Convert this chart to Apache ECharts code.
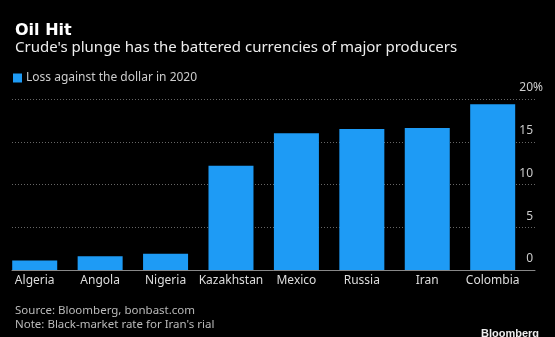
<!DOCTYPE html>
<html>
<head>
<meta charset="utf-8">
<script src="https://cdn.jsdelivr.net/npm/echarts@6/dist/echarts.min.js"></script>
<style>
  html, body { margin: 0; padding: 0; background: #000; }
  #chart { width: 555px; height: 337px; }
</style>
</head>
<body>
<div id="chart"></div>
<script>
const categories = ['Algeria', 'Angola', 'Nigeria', 'Kazakhstan', 'Mexico', 'Russia', 'Iran', 'Colombia'];
const lossValues = [1.1, 1.6, 1.9, 12.2, 16.0, 16.5, 16.6, 19.4];
const yTicks = [0, 5, 10, 15, 20];
const seriesName = 'Loss against the dollar in 2020';

const chart = echarts.init(document.getElementById('chart'), null, { renderer: 'canvas' });
const sans = 'Noto Sans';
const option = {
  backgroundColor: '#000',
  animation: false,
  title: [
    { text: 'Oil Hit', left: 10, top: 18,
      textStyle: { fontFamily: 'DejaVu Sans', fontWeight: 'bold', fontSize: 16, color: '#fff' } },
    { text: "Crude's plunge has the battered currencies of major producers", left: 10, top: 35,
      textStyle: { fontFamily: sans, fontWeight: 'normal', fontSize: 15, color: '#eee' } },
    { text: 'Source: Bloomberg, bonbast.com\nNote: Black-market rate for Iran\'s rial', left: 10, top: 299,
      textStyle: { fontFamily: sans, fontWeight: 'normal', fontSize: 11.5, lineHeight: 13.5, color: '#bbb' } },
    { text: 'Bloomberg', right: 11, top: 323,
      textStyle: { fontFamily: 'Liberation Sans', fontWeight: 'bold', fontSize: 11, color: '#eee' } }
  ],
  legend: {
    left: 8, top: 67, icon: 'rect', itemWidth: 9, itemHeight: 9, itemGap: 5,
    data: [seriesName],
    textStyle: { fontFamily: sans, fontSize: 12, color: '#ccc', padding: [0, 0, 0, -1] }
  },
  grid: [
    { left: 12, right: 20, top: 99, height: 171, containLabel: false },
    { left: 2, width: 523.4, top: 99, height: 171, containLabel: false }
  ],
  xAxis: [
    { gridIndex: 0, type: 'value', min: 0, max: 1, position: 'bottom',
      axisLine: { show: true, onZero: false, lineStyle: { color: '#888', width: 1 } },
      axisTick: { show: false }, axisLabel: { show: false }, splitLine: { show: false } },
    { gridIndex: 1, type: 'category', data: categories,
      axisLine: { show: false }, axisTick: { show: false },
      axisLabel: { margin: 5, fontFamily: sans, fontSize: 12, color: '#ddd', interval: 0 } }
  ],
  yAxis: [
    { gridIndex: 0, type: 'value', position: 'right', min: yTicks[0], max: yTicks[yTicks.length - 1], interval: 5,
      axisLine: { show: false }, axisTick: { show: false },
      splitLine: { show: true, lineStyle: { color: '#666', type: [1, 2], width: 1 } },
      axisLabel: {
        inside: true, margin: -8, align: 'right', verticalAlign: 'bottom',
        padding: [0, 0, 5, 0],
        formatter: v => '{n|' + v + '}' + (v === 20 ? '{p|%}' : '{q|%}'),
        rich: {
          n: { fontFamily: sans, fontSize: 12, color: '#ccc' },
          p: { fontFamily: sans, fontSize: 12, color: '#ccc' },
          q: { fontFamily: sans, fontSize: 12, color: 'rgba(0,0,0,0)' }
        }
      } },
    { gridIndex: 1, type: 'value', min: 0, max: 20, show: false }
  ],
  series: [
    { name: seriesName, type: 'bar', xAxisIndex: 1, yAxisIndex: 1, data: lossValues,
      barWidth: 45, itemStyle: { color: '#1e9bf5' }, z: 3 }
  ]
};
chart.setOption(option);
</script>
</body>
</html>
